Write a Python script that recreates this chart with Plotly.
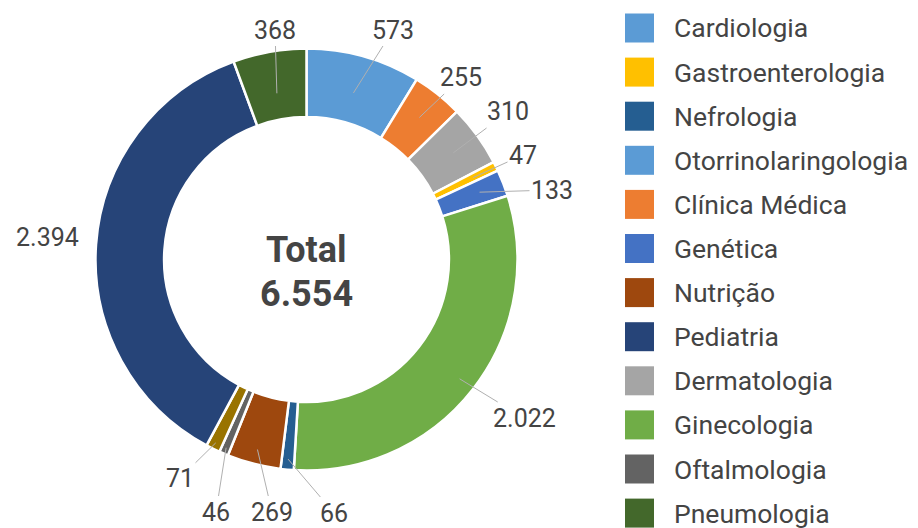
import math
import plotly.graph_objects as go

# ---- data ----
categories = ["Cardiologia", "Clínica Médica", "Dermatologia", "Gastroenterologia",
              "Genética", "Ginecologia", "Nefrologia", "Nutrição", "Oftalmologia",
              "Otorrinolaringologia", "Pediatria", "Pneumologia"]
values = [573, 255, 310, 47, 133, 2022, 66, 269, 46, 71, 2394, 368]
value_labels = ["573", "255", "310", "47", "133", "2.022", "66", "269", "46", "71", "2.394", "368"]
slice_colors = ["#5B9BD5", "#ED7D31", "#A5A5A5", "#FFC000", "#4472C4", "#70AD47",
                "#255E91", "#9E480E", "#636363", "#997300", "#264478", "#43682B"]
legend_order = ["Cardiologia", "Gastroenterologia", "Nefrologia", "Otorrinolaringologia",
                "Clínica Médica", "Genética", "Nutrição", "Pediatria",
                "Dermatologia", "Ginecologia", "Oftalmologia", "Pneumologia"]
legend_colors = {"Otorrinolaringologia": "#5B9BD5"}
total_label = "6.554"

# ---- layout (styles / positions) ----
W, H = 918, 528
CX, CY, R = 306.5, 259.5, 211.0   # pixel centre & radius of the donut
# text centres of value labels (pixels, y downward)
label_text_px = [(393, 30), (461, 78), (508, 112), (523, 155), (552, 190), (524, 418),
                 (334, 513), (272, 512), (216, 512), (180, 478), (47, 238), (275, 30)]
head_frac = [0.82, 0.86, 0.86, 0.88, 0.88, 0.92, 0.95, 0.93, 0.97, 0.97, 0.85, 0.80]
FONT = "Roboto, 'Open Sans', sans-serif"
TXT = "#444444"

fig = go.Figure()
fig.add_trace(go.Pie(
    labels=categories, values=values, sort=False, direction="clockwise", rotation=0,
    hole=0.675, textinfo="none", showlegend=False,
    marker=dict(colors=slice_colors, line=dict(color="white", width=2.5)),
    domain=dict(x=[(CX - R) / W, (CX + R) / W],
                y=[(H - CY - R) / H, (H - CY + R) / H]),
))

annotations = []
total = sum(values)
cum = 0
for i, v in enumerate(values):
    mid = (cum + v / 2) / total * 2 * math.pi
    cum += v
    hx = CX + head_frac[i] * R * math.sin(mid)
    hy = CY - head_frac[i] * R * math.cos(mid)
    tx, ty = label_text_px[i]
    show = categories[i] != "Pediatria"
    if show:
        annotations.append(dict(
            x=hx / W, y=1 - hy / H, xref="paper", yref="paper",
            ax=tx - hx, ay=ty - hy, axref="pixel", ayref="pixel",
            text=value_labels[i], showarrow=True, arrowhead=0, arrowwidth=1,
            arrowcolor="#b0b0b0", standoff=0,
            font=dict(family=FONT, size=25, color=TXT)))
    else:
        annotations.append(dict(
            x=tx / W, y=1 - ty / H, xref="paper", yref="paper", showarrow=False,
            xanchor="center", yanchor="middle",
            text=value_labels[i], font=dict(family=FONT, size=25, color=TXT)))

# centre text
annotations.append(dict(x=CX / W, y=1 - 250 / H, xref="paper", yref="paper", showarrow=False,
                        xanchor="center", yanchor="middle",
                        text="<b>Total</b>", font=dict(family=FONT, size=36, color=TXT)))
annotations.append(dict(x=CX / W, y=1 - 294 / H, xref="paper", yref="paper", showarrow=False,
                        xanchor="center", yanchor="middle",
                        text="<b>" + total_label + "</b>", font=dict(family=FONT, size=36, color=TXT)))

# manual legend
shapes = []
color_of = dict(zip(categories, slice_colors))
for k, name in enumerate(legend_order):
    yc = 28 + k * 44.1
    col = legend_colors.get(name, color_of[name])
    shapes.append(dict(type="rect", xref="paper", yref="paper",
                       x0=625 / W, x1=654 / W, y0=1 - (yc + 14.5) / H, y1=1 - (yc - 14.5) / H,
                       fillcolor=col, line=dict(width=0)))
    annotations.append(dict(x=672 / W, y=1 - yc / H, xref="paper", yref="paper",
                            xanchor="left", yanchor="middle", showarrow=False, text=name,
                            font=dict(family=FONT, size=26.5, color=TXT)))

fig.update_layout(width=W, height=H, margin=dict(l=0, r=0, t=0, b=0),
                  paper_bgcolor="white", plot_bgcolor="white",
                  annotations=annotations, shapes=shapes)
fig.write_html("out.html", config={"displayModeBar": False},
               post_script="document.body.style.margin='0';")
